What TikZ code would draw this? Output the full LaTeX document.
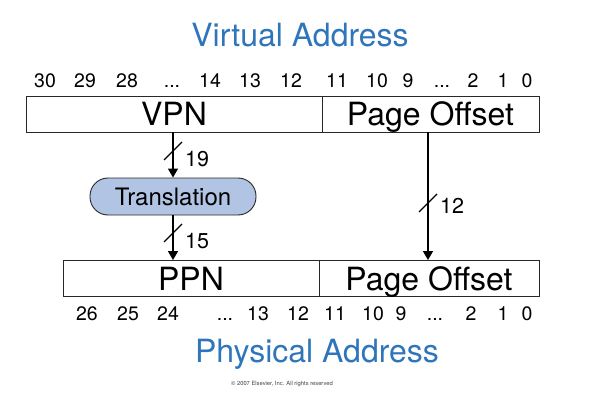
\documentclass[tikz,border=0pt]{standalone}
\usepackage{fontspec}
\setmainfont{TeX Gyre Heros}
\usetikzlibrary{arrows.meta}
\definecolor{titleblue}{RGB}{46,117,186}
\definecolor{transfill}{RGB}{178,196,228}
\definecolor{linegray}{RGB}{40,40,40}
\newcommand{\mydots}{...}
\begin{document}
\begin{tikzpicture}[x=1pt,y=-1pt,
  field/.style={draw=linegray, line width=0.9pt, inner sep=0pt, minimum height=36pt,
    text height=23pt, text depth=0pt, font=\fontsize{32}{36}\selectfont},
  bitnum/.style={anchor=base, inner sep=0pt, font=\fontsize{19.5}{22}\selectfont},
  title/.style={anchor=base, inner sep=0pt, text=titleblue, font=\fontsize{32}{36}\selectfont},
  wlabel/.style={anchor=base west, inner sep=0pt, font=\fontsize{21.5}{24}\selectfont},
  flow/.style={draw=black, line width=1.4pt, -{Triangle[length=9pt,width=10pt]}},
  slash/.style={draw=black, line width=1.1pt},
  transbox/.style={draw=linegray, line width=0.9pt, fill=transfill, rounded corners=18pt,
    minimum width=166pt, minimum height=37pt, inner sep=0pt,
    text height=17pt, text depth=0pt, font=\fontsize{24}{28}\selectfont}]
\useasboundingbox (0,0) rectangle (590,404);

% titles
\node[title] (vtitle) at (300,47) {Virtual Address};
\node[title] (ptitle) at (317,362) {Physical Address};
\node[anchor=base, inner sep=0pt, font=\fontsize{5.8}{7}\selectfont, text=black!75] (copy) at (282,385) {\textcopyright{} 2007 Elsevier, Inc. All rights reserved};

% top bit numbers
\foreach \x/\t [count=\i] in {45/30,85/29,127/28,172/\mydots,210/14,250/13,291/12,337/11,377/10,408/9,442/\mydots,473/2,503/1,527/0}
  \node[bitnum] (tb\i) at (\x,88) {\t};
% bottom bit numbers
\foreach \x/\t [count=\i] in {87/26,128/25,168/24,225/\mydots,258/13,298/12,335/11,373/10,401/9,435/\mydots,471/2,503/1,527/0}
  \node[bitnum] (bb\i) at (\x,320) {\t};

% address fields
\node[field, minimum width=296pt] (vpn) at (174,114) {VPN};
\node[field, minimum width=217pt] (voff) at (430.5,114) {Page Offset};
\node[field, minimum width=256pt] (ppn) at (191,278.5) {PPN};
\node[field, minimum width=220pt] (poff) at (429,278.5) {Page Offset};

% translation
\node[transbox] (trans) at (173,196.5) {Translation};

% connectors
\draw[flow] (vpn.south -| trans.north) -- (trans.north);
\draw[flow] (trans.south) -- (trans.south |- ppn.north);
\coordinate (vr) at (428,132);
\draw[flow] (vr) -- (vr |- poff.north);

% bus width slashes
\coordinate (s1) at (173,151);
\coordinate (s2) at (173,233);
\coordinate (s3) at (428,203);
\foreach \s in {s1,s2,s3}
  \draw[slash] ([shift={(-9,9)}]\s) -- ([shift={(9,-9)}]\s);
\node[wlabel] (l19) at (185,167) {19};
\node[wlabel] (l15) at (185,248) {15};
\node[wlabel] (l12) at (440,213) {12};
\end{tikzpicture}
\end{document}
